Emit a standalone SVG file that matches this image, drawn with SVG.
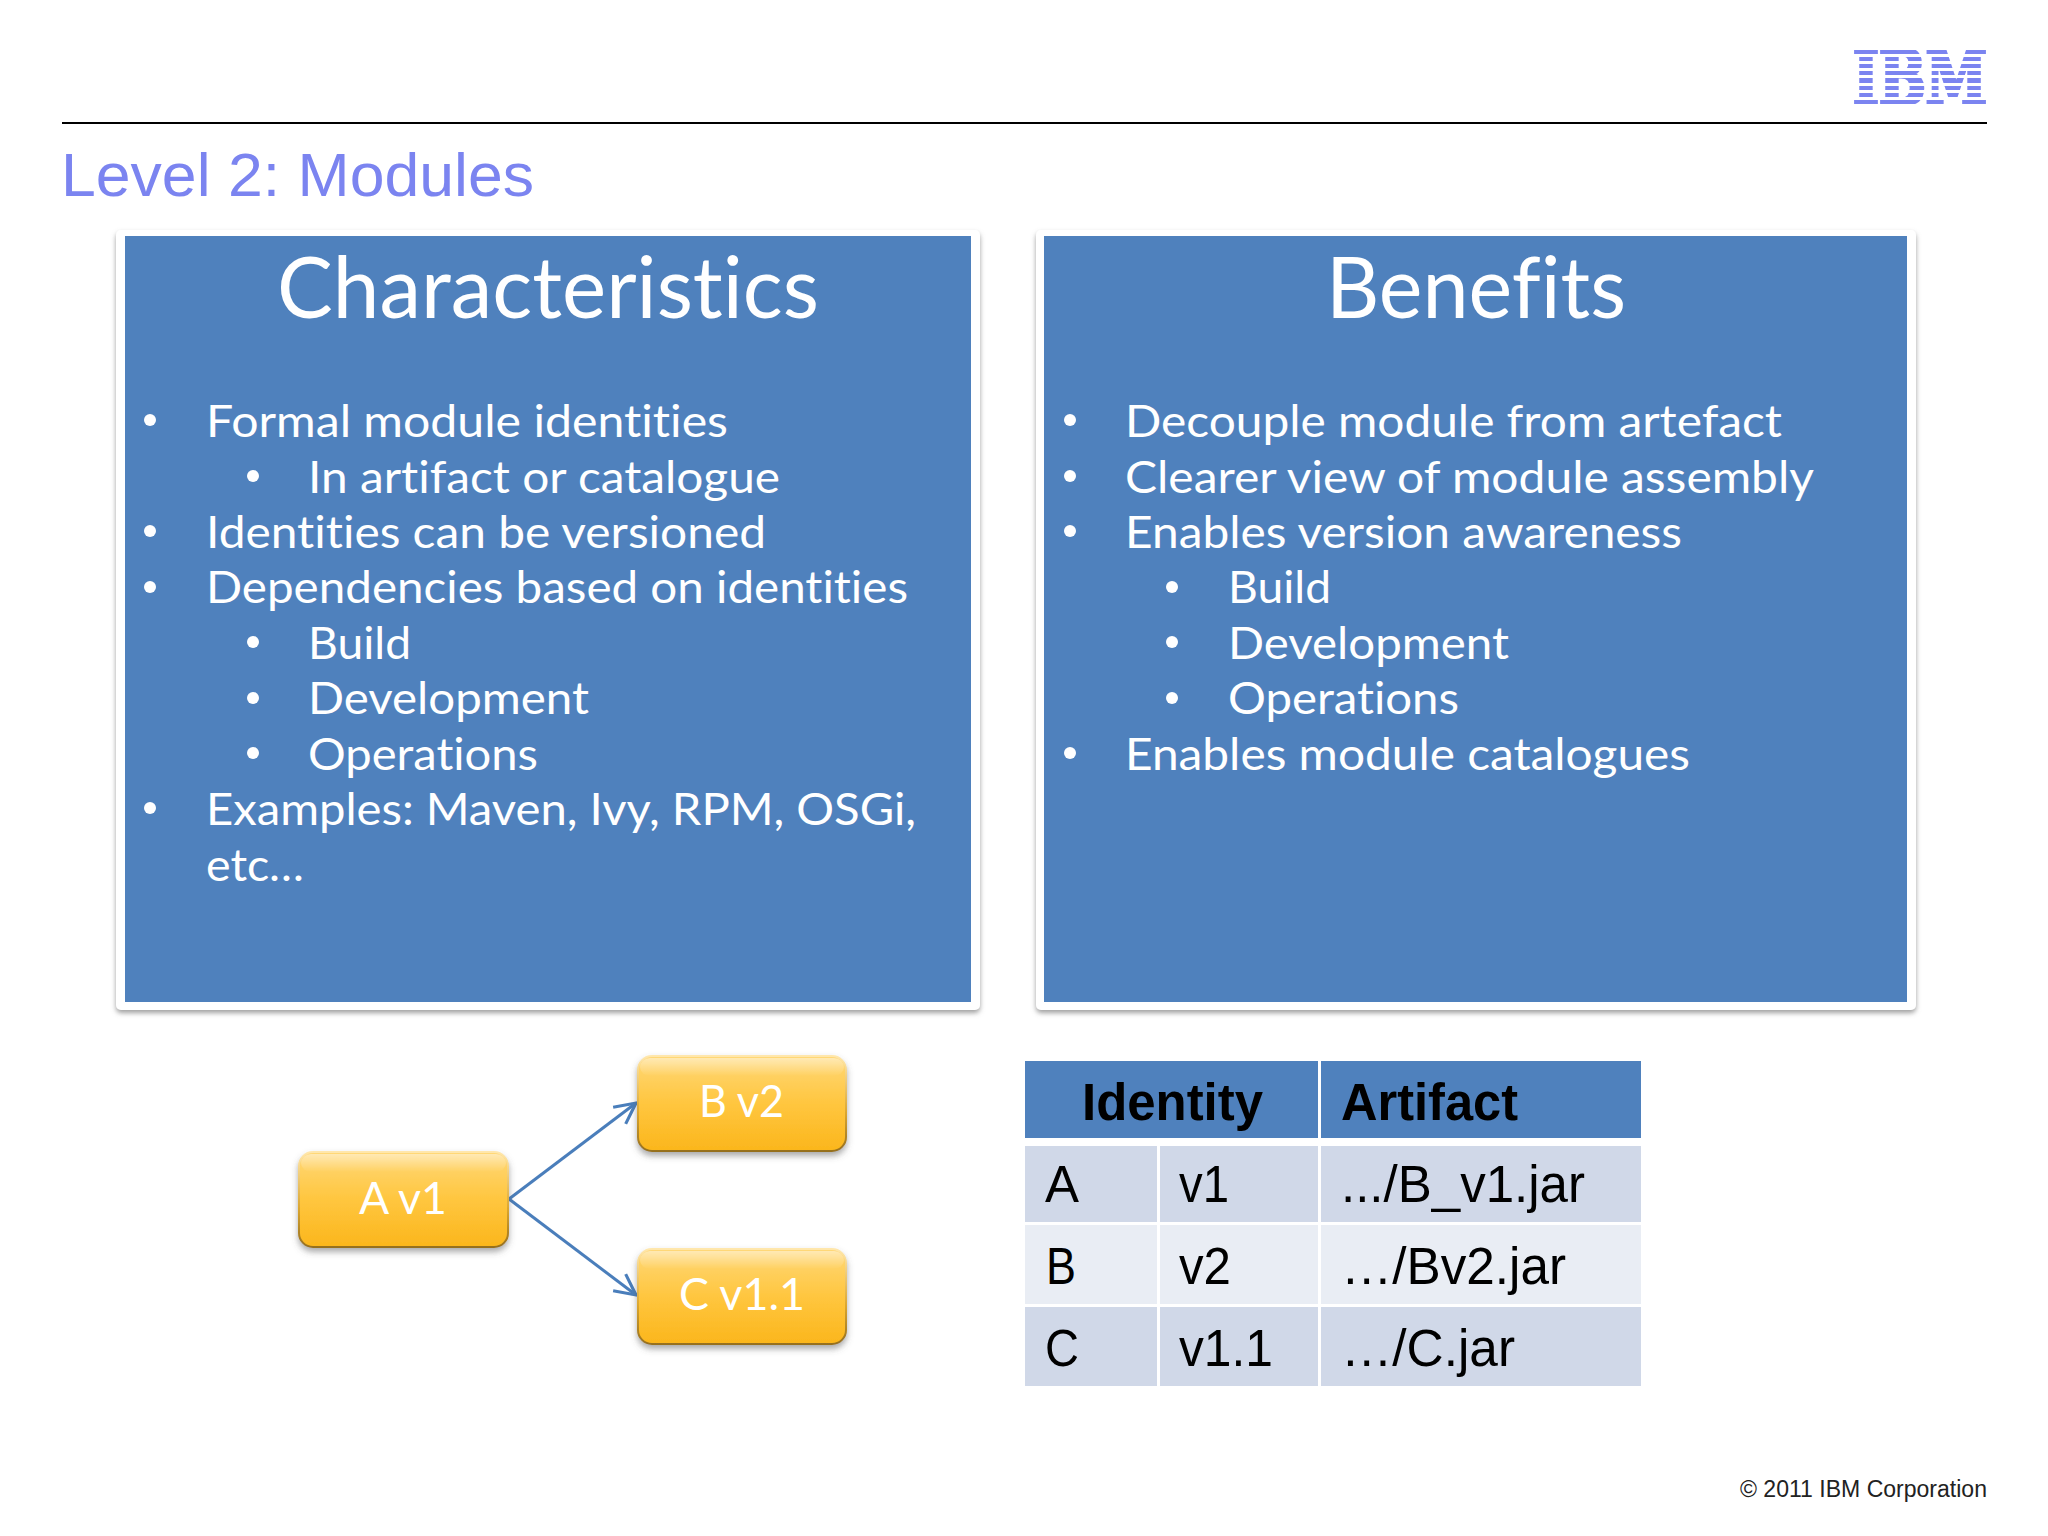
<svg xmlns="http://www.w3.org/2000/svg" width="2048" height="1536" viewBox="0 0 2048 1536">
<style>
.b{font-family:"Lato","Noto Sans","Liberation Sans",sans-serif;font-size:45px;fill:#fff;font-variant-ligatures:none}
.h{font-family:"Lato","Noto Sans","Liberation Sans",sans-serif;font-size:86px;fill:#fff;font-variant-ligatures:none}
.n{font-family:"Lato","Noto Sans","Liberation Sans",sans-serif;font-size:45px;fill:#fff}
.t{font-family:"Liberation Sans",Arial,sans-serif;font-size:51px;fill:#000}
.tb{font-weight:bold}
.panel{fill:#fff;filter:url(#ps)}
.blue{fill:#4f81bd}
.box{fill:url(#gold);stroke:url(#edge);stroke-width:2;filter:url(#bs)}
.hi{fill:url(#shine)}
.conn{fill:none;stroke:#4a7ebb;stroke-width:3;marker-end:url(#ah)}
.c1{fill:#d0d8e8}.c2{fill:#e9edf4}.c0{fill:#4f81bd}
.dot{fill:#fff}
.stripe{fill:#fff}
</style>
<defs>
<filter id="ps" x="-5%" y="-5%" width="110%" height="110%"><feDropShadow dx="0" dy="3" stdDeviation="2.5" flood-color="#777" flood-opacity=".7"/></filter>
<filter id="bs" x="-10%" y="-10%" width="120%" height="130%"><feDropShadow dx="0" dy="4" stdDeviation="3" flood-color="#555" flood-opacity=".5"/></filter>
<linearGradient id="gold" x1="0" y1="0" x2="0" y2="1"><stop offset="0" stop-color="#ffd878"/><stop offset=".5" stop-color="#ffc63f"/><stop offset="1" stop-color="#fbb61c"/></linearGradient>
<linearGradient id="edge" x1="0" y1="0" x2="0" y2="1"><stop offset="0" stop-color="#ffe7ac"/><stop offset=".6" stop-color="#dba62e"/><stop offset="1" stop-color="#96701f"/></linearGradient>
<linearGradient id="shine" x1="0" y1="0" x2="0" y2="1"><stop offset="0" stop-color="#fff" stop-opacity=".45"/><stop offset="1" stop-color="#fff" stop-opacity="0"/></linearGradient>
<marker id="ah" viewBox="0 0 20 20" refX="18" refY="10" markerWidth="26" markerHeight="26" markerUnits="userSpaceOnUse" orient="auto"><path d="M2 2L18 10L2 18" fill="none" stroke="#4a7ebb" stroke-width="2.4"/></marker>
</defs>
<rect width="2048" height="1536" fill="#fff"/>

<g id="logo">
<text x="1853" y="104" font-family="'DejaVu Serif','Liberation Serif',serif" font-weight="bold" font-size="74" fill="#7b84f0" stroke="#7b84f0" stroke-width="4" textLength="134" lengthAdjust="spacingAndGlyphs">IBM</text>
<rect class="stripe" x="1846" y="40" width="148" height="10"/>
<rect class="stripe" x="1846" y="54" width="148" height="3"/>
<rect class="stripe" x="1846" y="61" width="148" height="3"/>
<rect class="stripe" x="1846" y="68" width="148" height="3"/>
<rect class="stripe" x="1846" y="75" width="148" height="3"/>
<rect class="stripe" x="1846" y="83" width="148" height="3"/>
<rect class="stripe" x="1846" y="90" width="148" height="3"/>
<rect class="stripe" x="1846" y="97" width="148" height="3"/>
<rect class="stripe" x="1846" y="104" width="148" height="10"/>
</g>
<rect id="rule" x="62" y="122" width="1925" height="2" fill="#000"/>
<text id="title" x="61" y="196" font-family="'Liberation Sans',Arial,sans-serif" font-size="62" fill="#7b84f0" textLength="473" lengthAdjust="spacingAndGlyphs">Level 2: Modules</text>

<g id="characteristics">
<rect class="panel" x="116" y="230" width="864" height="780" rx="5"/>
<rect class="blue" x="125" y="236" width="846" height="766"/>
<text class="h" x="277" y="318" textLength="542" lengthAdjust="spacingAndGlyphs">Characteristics</text>
<circle class="dot" cx="150" cy="420" r="6"/><text class="b" x="206" y="437" textLength="522" lengthAdjust="spacingAndGlyphs">Formal module identities</text>
<circle class="dot" cx="253" cy="476" r="6"/><text class="b" x="308" y="493" textLength="472" lengthAdjust="spacingAndGlyphs">In artifact or catalogue</text>
<circle class="dot" cx="150" cy="531" r="6"/><text class="b" x="206" y="548" textLength="560" lengthAdjust="spacingAndGlyphs">Identities can be versioned</text>
<circle class="dot" cx="150" cy="587" r="6"/><text class="b" x="206" y="603" textLength="702" lengthAdjust="spacingAndGlyphs">Dependencies based on identities</text>
<circle class="dot" cx="253" cy="642" r="6"/><text class="b" x="308" y="659" textLength="103" lengthAdjust="spacingAndGlyphs">Build</text>
<circle class="dot" cx="253" cy="698" r="6"/><text class="b" x="308" y="714" textLength="281" lengthAdjust="spacingAndGlyphs">Development</text>
<circle class="dot" cx="253" cy="753" r="6"/><text class="b" x="308" y="770" textLength="230" lengthAdjust="spacingAndGlyphs">Operations</text>
<circle class="dot" cx="150" cy="808" r="6"/><text class="b" x="206" y="825" textLength="710" lengthAdjust="spacingAndGlyphs">Examples: Maven, Ivy, RPM, OSGi,</text>
<text class="b" x="206" y="881" textLength="98" lengthAdjust="spacingAndGlyphs">etc…</text>
</g>

<g id="benefits">
<rect class="panel" x="1036" y="230" width="880" height="780" rx="5"/>
<rect class="blue" x="1044" y="236" width="863" height="766"/>
<text class="h" x="1326" y="318" textLength="300" lengthAdjust="spacingAndGlyphs">Benefits</text>
<circle class="dot" cx="1070" cy="420" r="6"/><text class="b" x="1125" y="437" textLength="657" lengthAdjust="spacingAndGlyphs">Decouple module from artefact</text>
<circle class="dot" cx="1070" cy="476" r="6"/><text class="b" x="1125" y="493" textLength="689" lengthAdjust="spacingAndGlyphs">Clearer view of module assembly</text>
<circle class="dot" cx="1070" cy="531" r="6"/><text class="b" x="1125" y="548" textLength="557" lengthAdjust="spacingAndGlyphs">Enables version awareness</text>
<circle class="dot" cx="1172" cy="587" r="6"/><text class="b" x="1228" y="603" textLength="103" lengthAdjust="spacingAndGlyphs">Build</text>
<circle class="dot" cx="1172" cy="642" r="6"/><text class="b" x="1228" y="659" textLength="281" lengthAdjust="spacingAndGlyphs">Development</text>
<circle class="dot" cx="1172" cy="698" r="6"/><text class="b" x="1228" y="714" textLength="231" lengthAdjust="spacingAndGlyphs">Operations</text>
<circle class="dot" cx="1070" cy="753" r="6"/><text class="b" x="1125" y="770" textLength="565" lengthAdjust="spacingAndGlyphs">Enables module catalogues</text>
</g>

<g id="connectors">
<path class="conn" d="M509 1199L636 1103"/>
<path class="conn" d="M509 1199L636 1295"/>
</g>

<g id="node-a">
<rect class="box" x="299" y="1152" width="209" height="95" rx="14"/>
<rect class="hi" x="301" y="1154" width="205" height="18" rx="10"/>
<text class="n" x="359" y="1214" textLength="88" lengthAdjust="spacingAndGlyphs">A v1</text>
</g>
<g id="node-b">
<rect class="box" x="638" y="1056" width="208" height="95" rx="14"/>
<rect class="hi" x="640" y="1058" width="204" height="18" rx="10"/>
<text class="n" x="699" y="1117" textLength="85" lengthAdjust="spacingAndGlyphs">B v2</text>
</g>
<g id="node-c">
<rect class="box" x="638" y="1249" width="208" height="95" rx="14"/>
<rect class="hi" x="640" y="1251" width="204" height="18" rx="10"/>
<text class="n" x="679" y="1310" textLength="126" lengthAdjust="spacingAndGlyphs">C v1.1</text>
</g>

<g id="table">
<rect class="c0" x="1025" y="1061" width="293" height="77"/>
<rect class="c0" x="1321" y="1061" width="320" height="77"/>
<rect class="c1" x="1025" y="1146" width="132" height="76"/>
<rect class="c1" x="1160" y="1146" width="158" height="76"/>
<rect class="c1" x="1321" y="1146" width="320" height="76"/>
<rect class="c2" x="1025" y="1225" width="132" height="79"/>
<rect class="c2" x="1160" y="1225" width="158" height="79"/>
<rect class="c2" x="1321" y="1225" width="320" height="79"/>
<rect class="c1" x="1025" y="1307" width="132" height="79"/>
<rect class="c1" x="1160" y="1307" width="158" height="79"/>
<rect class="c1" x="1321" y="1307" width="320" height="79"/>
<text class="t tb" x="1082" y="1120" textLength="181" lengthAdjust="spacingAndGlyphs">Identity</text>
<text class="t tb" x="1341" y="1120" textLength="177" lengthAdjust="spacingAndGlyphs">Artifact</text>
<text class="t" x="1045" y="1202" textLength="34" lengthAdjust="spacingAndGlyphs">A</text>
<text class="t" x="1179" y="1202" textLength="50" lengthAdjust="spacingAndGlyphs">v1</text>
<text class="t" x="1341" y="1202" textLength="244" lengthAdjust="spacingAndGlyphs">.../B_v1.jar</text>
<text class="t" x="1046" y="1284" textLength="30" lengthAdjust="spacingAndGlyphs">B</text>
<text class="t" x="1179" y="1284" textLength="52" lengthAdjust="spacingAndGlyphs">v2</text>
<text class="t" x="1341" y="1284" textLength="225" lengthAdjust="spacingAndGlyphs">…/Bv2.jar</text>
<text class="t" x="1045" y="1366" textLength="34" lengthAdjust="spacingAndGlyphs">C</text>
<text class="t" x="1179" y="1366" textLength="94" lengthAdjust="spacingAndGlyphs">v1.1</text>
<text class="t" x="1341" y="1366" textLength="174" lengthAdjust="spacingAndGlyphs">…/C.jar</text>
</g>

<text id="footer" x="1740" y="1497" font-family="'Liberation Sans',Arial,sans-serif" font-size="23" fill="#222" textLength="247" lengthAdjust="spacingAndGlyphs">© 2011 IBM Corporation</text>
</svg>
